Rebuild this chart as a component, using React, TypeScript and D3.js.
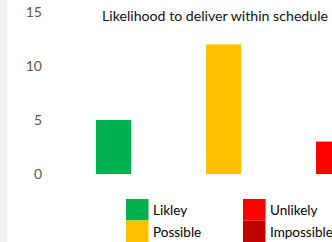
import React, {useEffect, useRef} from 'react';
import * as d3 from 'd3';

const categories = ['Likley', 'Possible', 'Unlikely', 'Impossible'];
const values = [5, 12, 3, 1];
const colors = ['#00b050', '#ffc000', '#ff0000', '#c00000'];
const yTicks = [0, 5, 10, 15];
const title = 'Likelihood to deliver within schedule';

export default function App() {
  const svgRef = useRef<SVGSVGElement>(null);

  useEffect(() => {
    const svg = d3.select(svgRef.current);
    svg.selectAll('*').remove();

    const width = 332;
    const height = 242;
    const font = 'Lato, "Open Sans", sans-serif';

    svg.append('rect').attr('width', width).attr('height', height).attr('fill', '#fff');
    // grey strip on the left edge
    svg.append('rect').attr('width', 7).attr('height', height).attr('fill', '#f2f2f2');

    const y = d3.scaleLinear().domain([0, 15]).range([174, 12]);
    const x = d3.scaleBand()
      .domain(categories)
      .range([58.6, 498.6])
      .paddingInner(0.68)
      .paddingOuter(0.34);

    // y axis labels, no line
    svg.append('g')
      .selectAll('text')
      .data(yTicks)
      .enter().append('text')
      .attr('x', 42)
      .attr('y', d => y(d))
      .attr('dy', '0.36em')
      .attr('text-anchor', 'end')
      .attr('font-family', font)
      .attr('font-size', 14)
      .attr('fill', '#595959')
      .text(d => d);

    svg.append('g')
      .selectAll('rect')
      .data(values)
      .enter().append('rect')
      .attr('x', (d, i) => x(categories[i]) as number)
      .attr('y', d => y(d))
      .attr('width', x.bandwidth())
      .attr('height', d => y(0) - y(d))
      .attr('fill', (d, i) => colors[i]);

    svg.append('text')
      .attr('x', 102)
      .attr('y', 21)
      .attr('font-family', font)
      .attr('font-size', 12.5)
      .attr('fill', '#111')
      .attr('textLength', 226)
      .attr('lengthAdjust', 'spacingAndGlyphs')
      .text(title);

    // legend: 2 columns x 2 rows
    const legend = svg.append('g');
    const legX = [126, 243];
    const legY = [199, 220.5];
    categories.forEach((c, i) => {
      const col = Math.floor(i / 2);
      const row = i % 2;
      legend.append('rect')
        .attr('x', legX[col])
        .attr('y', legY[row])
        .attr('width', 22.5)
        .attr('height', 21.5)
        .attr('fill', colors[i]);
      legend.append('text')
        .attr('x', legX[col] + 27)
        .attr('y', legY[row] + 16)
        .attr('font-family', font)
        .attr('font-size', 13.5)
        .attr('fill', '#000')
        .text(c);
    });
  }, []);

  return (
    <svg
      ref={svgRef}
      width="332"
      height="242"
      style={{position: 'absolute', left: 0, top: 0}}
    />
  );
}
